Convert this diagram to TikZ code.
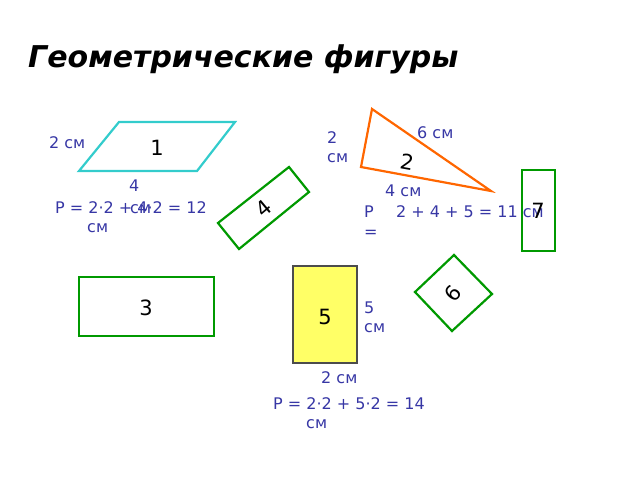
\documentclass[tikz,border=0pt]{standalone}
\usepackage{fontspec}
\setmainfont{DejaVu Sans}
\definecolor{txtblue}{RGB}{55,55,165}
\definecolor{figgreen}{RGB}{0,153,0}
\definecolor{figcyan}{RGB}{51,204,204}
\definecolor{figorange}{RGB}{255,102,0}
\definecolor{figyellow}{RGB}{255,255,102}
\tikzset{
    lbl/.style={anchor=base west, inner sep=0pt, text=txtblue, font=\fontsize{16}{19}\selectfont},
    num/.style={inner sep=0pt, font=\fontsize{21}{25}\selectfont},
    fig/.style={line width=2.2pt, line join=miter}
}
\begin{document}
\begin{tikzpicture}[x=1pt, y=-1pt]
    \useasboundingbox (0,0) rectangle (640,480);

    \node[anchor=base west, inner sep=0pt, font=\fontsize{30}{36}\selectfont\bfseries\itshape] (title) at (28,67) {Геометрические фигуры};

    % 1
    \draw[fig, figcyan] (79,171) -- (119,122) -- (235,122) -- (197,171) -- cycle;
    \node[num] (n1) at (157,148) {1};
    \node[lbl] (a1) at (49,148) {2 см};
    \node[lbl] (b1) at (129,191) {4};
    \node[lbl] (b1u) at (130,213) {см};
    \node[lbl] (p1) at (55,213) {P = 2·2 + 4·2 = 12};
    \node[lbl] (p1u) at (87,232) {см};

    % 2
    \draw[fig, figorange] (372,109) -- (361,167) -- (491,191) -- cycle;
    \node[num, rotate=-10] (n2) at (407,162) {2};
    \node[lbl] (a2) at (327,143) {2};
    \node[lbl] (a2u) at (327,162) {см};
    \node[lbl] (c2) at (417,138) {6 см};
    \node[lbl] (b2) at (385,196) {4 см};
    \node[lbl] (p2) at (364,217) {P};
    \node[lbl] (p2e) at (364,237) {=};
    \node[lbl] (p2s) at (396,217) {2 + 4 + 5 = 11 см};

    % 4
    \draw[fig, figgreen] (218,223) -- (289,167) -- (309,192) -- (239,249) -- cycle;
    \node[num, rotate=40] (n4) at (264,208) {4};

    % 7
    \draw[fig, figgreen] (522,170) rectangle (555,251);
    \node[num] (n7) at (538,211) {7};

    % 3
    \draw[fig, figgreen] (79,277) rectangle (214,336);
    \node[num] (n3) at (146,308) {3};

    % 5
    \draw[line width=1.3pt, fill=figyellow, draw=black!70] (293,266) rectangle (357,363);
    \node[num] (n5) at (325,317) {5};
    \node[lbl] (a5) at (364,313) {5};
    \node[lbl] (a5u) at (364,332) {см};
    \node[lbl] (b5) at (321,383) {2 см};
    \node[lbl] (p5) at (273,409) {P = 2·2 + 5·2 = 14};
    \node[lbl] (p5u) at (306,428) {см};

    % 6
    \draw[fig, figgreen] (454,255) -- (492,294) -- (452,331) -- (415,292) -- cycle;
    \node[num, rotate=50] (n6) at (453,293) {6};
\end{tikzpicture}
\end{document}
